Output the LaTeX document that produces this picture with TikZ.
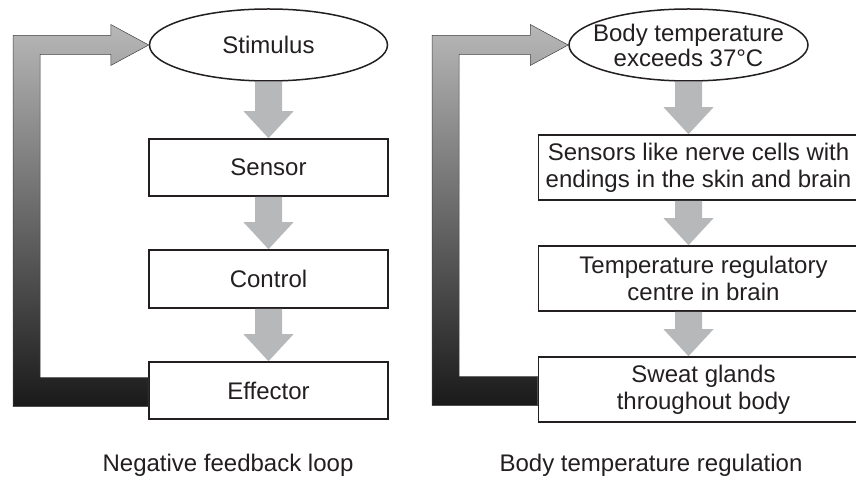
\documentclass[tikz,border=0pt]{standalone}
\usepackage{fontspec}
\setmainfont{Liberation Sans}
\usetikzlibrary{calc, shapes.geometric}

\definecolor{inkcol}{RGB}{35,31,32}
\definecolor{arrowgray}{RGB}{183,184,186}

\tikzset{every node/.style={font=\fontsize{24}{27}\selectfont, text=inkcol}}
\tikzset{
  oval/.style={ellipse, draw=inkcol, line width=1.5pt, inner sep=0pt,
    minimum width=238pt, minimum height=72pt},
  stagebox/.style={rectangle, draw=inkcol, line width=1.6pt, inner sep=0pt,
    align=center, minimum height=57pt},
  loopshade/.style={top color=black!28, bottom color=black!90,
    draw=black!75, line width=0.5pt},
}

% Fat gray arrow between two stages, in the column of node #1.
\newcommand{\grayarrow}[3]{%
  \coordinate (ga) at (#2.south -| #1);
  \coordinate (gb) at (#3.north -| #1);
  \fill[arrowgray] ($(ga)+(-13.5,0)$) -- ($(gb)+(-13.5,-27)$)
    -- ($(gb)+(-25,-27)$) -- (gb) -- ($(gb)+(25,-27)$)
    -- ($(gb)+(13.5,-27)$) -- ($(ga)+(13.5,0)$) -- cycle;
}

% Shaded feedback loop from node #1 back to node #2, outer edge at x=#3.
\newcommand{\loopback}[3]{%
  \coordinate (lx0) at (#3,0);
  \coordinate (lx1) at ({#3+27},0);
  \coordinate (lb1) at ($(#1.west)+(0,-13)$);
  \coordinate (lb2) at ($(#1.west)+(0,16)$);
  \coordinate (lt1) at ($(#2.west)+(-38,9.5)$);
  \coordinate (lt2) at ($(#2.west)+(-38,-9.5)$);
  \coordinate (lh1) at ($(#2.west)+(-38,20.5)$);
  \coordinate (lh2) at ($(#2.west)+(-38,-20.5)$);
  \path[loopshade] (lb1) -- (lb1 -| lx1) -- (lt1 -| lx1) -- (lt1) -- (lh1)
    -- (#2.west) -- (lh2) -- (lt2) -- (lt2 -| lx0) -- (lb2 -| lx0)
    -- (lb2) -- cycle;
}

\begin{document}
\begin{tikzpicture}[x=1pt, y=-1pt]
  % Fixed frame of the picture.
  \path[use as bounding box] (0,0) rectangle (856,478);
  \clip (0,0) rectangle (856,478);

  % Left: negative feedback loop.
  \node[oval] (stim) at (268.5,45) {Stimulus};
  \node[stagebox, minimum width=239pt] (sensor) at (268.5,167.5) {Sensor};
  \node[stagebox, minimum width=239pt, minimum height=58pt] (control) at (268.5,279) {Control};
  \node[stagebox, minimum width=239pt] (effector) at (268.5,390.5) {Effector};

  \grayarrow{stim}{stim}{sensor}
  \grayarrow{stim}{sensor}{control}
  \grayarrow{stim}{control}{effector}
  \loopback{effector}{stim}{13}

  % Right: body temperature regulation.
  \node[oval, minimum width=239pt] (hot) at (688.5,45) {};
  \node[align=center, font=\fontsize{24}{25}\selectfont] (hottext) at (hot)
    {Body temperature\\exceeds 37°C};
  \node[stagebox, minimum width=320pt, minimum height=65pt] (sensors) at (698.5,167.5)
    {Sensors like nerve cells with\\endings in the skin and brain};
  \node[stagebox, minimum width=330pt, minimum height=65pt] (centre) at (703.5,278.5)
    {Temperature regulatory\\centre in brain};
  \node[stagebox, minimum width=330pt, minimum height=65pt] (glands) at (703.5,389.5)
    {Sweat glands\\throughout body};

  \grayarrow{hot}{hot}{sensors}
  \grayarrow{hot}{sensors}{centre}
  \grayarrow{hot}{centre}{glands}
  \loopback{glands}{hot}{432}

  % Captions.
  \node[anchor=base] (leftcap) at (228,471) {Negative feedback loop};
  \node[anchor=base] (rightcap) at (651,471) {Body temperature regulation};
\end{tikzpicture}
\end{document}
